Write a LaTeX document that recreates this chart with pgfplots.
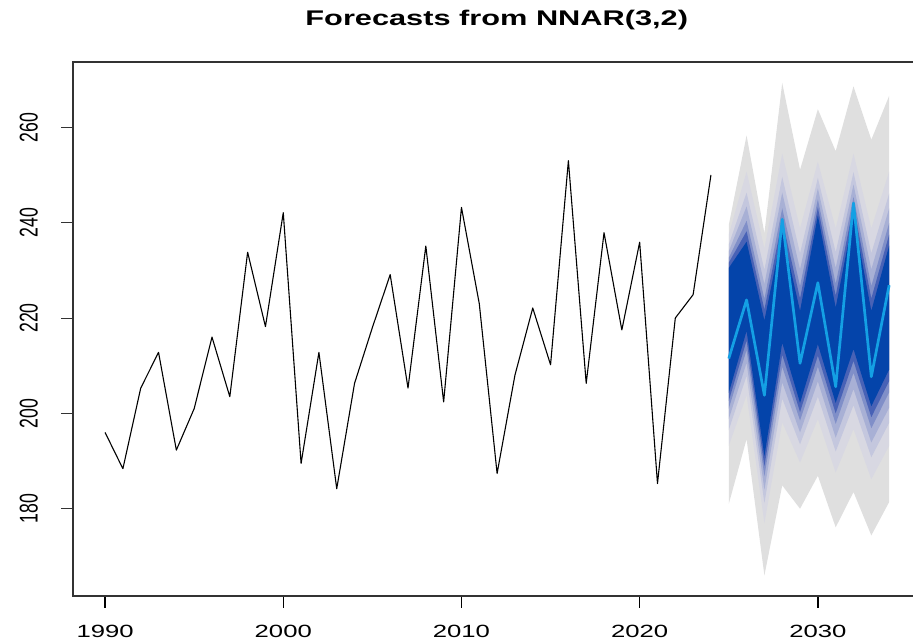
\documentclass[border=0pt]{standalone}
\usepackage{fontspec}
\setmainfont{Liberation Sans}[FakeStretch=1.45]
\newfontfamily\plainsans{Liberation Sans}
\usepackage{graphicx}
\usepackage{pgfplots}
\pgfplotsset{compat=1.18}
\usepgfplotslibrary{fillbetween}
\usepackage{pgfplotstable}
\definecolor{fanA}{RGB}{223,223,223}
\definecolor{fanT}{RGB}{216,216,226}
\definecolor{fanB}{RGB}{196,199,222}
\definecolor{fanC}{RGB}{168,176,213}
\definecolor{fanD}{RGB}{128,143,200}
\definecolor{fanE}{RGB}{72,98,182}
\definecolor{fanF}{RGB}{4,68,170}
\definecolor{lblue}{RGB}{20,160,228}

\pgfplotstableread{
year val
1990 196
1991 188.4
1992 205.3
1993 212.8
1994 192.3
1995 201
1996 216
1997 203.5
1998 233.8
1999 218.2
2000 242.1
2001 189.5
2002 212.8
2003 184.2
2004 206.3
2005 218
2006 229.1
2007 205.3
2008 235.1
2009 202.4
2010 243.2
2011 223
2012 187.4
2013 208
2014 222.1
2015 210.2
2016 253
2017 206.3
2018 237.9
2019 217.5
2020 235.9
2021 185.3
2022 220
2023 224.9
2024 250
}\hist

\pgfplotstableread{
year mean  u99   l99   ut    lt    ua    la    ub    lb    uc    lc    ue    le    ud    ld
2025 211.5 239.5 181.0 237.5 193.2 235.4 196.5 234.0 198.8 232.6 201.0 231.6 202.6 230.5 204.3
2026 223.8 258.3 194.6 250.7 203.8 246.3 207.9 243.4 210.6 240.4 213.3 238.2 215.3 236.0 217.3
2027 203.8 237.8 166.0 234.6 177.0 230.1 181.2 227.1 184.0 224.0 186.8 221.8 188.9 219.5 191.0
2028 240.7 269.3 184.9 254.5 198.1 249.6 203.1 246.3 206.5 243.0 209.8 240.5 212.3 238.0 214.8
2029 210.5 251.1 180.0 238.8 189.7 233.6 193.5 230.2 196.0 226.7 198.5 224.1 200.3 221.5 202.2
2030 227.4 263.8 186.9 252.8 198.8 249.4 203.5 247.2 206.7 244.9 209.8 243.2 212.1 241.5 214.5
2031 205.6 255.0 176.1 238.8 187.6 233.8 192.0 230.5 194.9 227.2 197.8 224.7 200.0 222.2 202.2
2032 244.1 268.6 183.5 254.5 196.7 250.6 201.7 248.0 205.1 245.4 208.5 243.5 211.0 241.5 213.5
2033 207.7 257.4 174.4 238.8 186.2 233.6 190.8 230.2 193.9 226.7 196.9 224.1 199.2 221.5 201.5
2034 226.9 266.6 181.4 250.7 193.2 246.1 198.0 243.0 201.2 239.9 204.4 237.5 206.8 235.2 209.2
}\fc

\begin{document}
\begin{tikzpicture}[x=1pt,y=1pt]
\begin{axis}[
  at={(0,0)}, anchor=south west,
  scale only axis, width=847.5pt, height=534pt,
  xmin=1988.2, xmax=2035.76, ymin=161.7, ymax=273.7,
  xtick={1990,2000,2010,2020,2030},
  ytick={180,200,220,240,260},
  minor tick num=0,
  tick align=outside, tick pos=left,
  major tick length=12pt,
  axis line style={draw=black!80, line width=1.1pt},
  xtick style={draw=black, line width=1.4pt},
  ytick style={draw=black!80, line width=1pt},
  /pgf/number format/assume math mode=true,
  /pgf/number format/1000 sep={},
  xticklabel shift=17pt,
  yticklabel shift=23pt,
  xticklabel style={font=\fontsize{17.7}{20}\selectfont, anchor=north, inner sep=0pt},
  yticklabel={\plainsans\fontsize{17.7}{20}\selectfont\scalebox{1}[1.45]{\pgfmathprintnumber{\tick}}},
  yticklabel style={rotate=90, anchor=south, inner sep=0pt},
  title={\bfseries\fontsize{21.2}{24}\selectfont Forecasts from NNAR(3,2)},
  title style={at={(0.5,1)}, anchor=base, inner sep=0pt, yshift=30pt},
  clip=true,
]
\addplot[draw=none, name path=u99] table[x=year,y=u99]{\fc};
\addplot[draw=none, name path=l99] table[x=year,y=l99]{\fc};
\addplot[draw=none, name path=ut] table[x=year,y=ut]{\fc};
\addplot[draw=none, name path=lt] table[x=year,y=lt]{\fc};
\addplot[draw=none, name path=ua] table[x=year,y=ua]{\fc};
\addplot[draw=none, name path=la] table[x=year,y=la]{\fc};
\addplot[draw=none, name path=ub] table[x=year,y=ub]{\fc};
\addplot[draw=none, name path=lb] table[x=year,y=lb]{\fc};
\addplot[draw=none, name path=uc] table[x=year,y=uc]{\fc};
\addplot[draw=none, name path=lc] table[x=year,y=lc]{\fc};
\addplot[draw=none, name path=ue] table[x=year,y=ue]{\fc};
\addplot[draw=none, name path=le] table[x=year,y=le]{\fc};
\addplot[draw=none, name path=ud] table[x=year,y=ud]{\fc};
\addplot[draw=none, name path=ld] table[x=year,y=ld]{\fc};
\addplot[fill=fanA] fill between[of=u99 and l99];
\addplot[fill=fanT] fill between[of=ut and lt];
\addplot[fill=fanB] fill between[of=ua and la];
\addplot[fill=fanC] fill between[of=ub and lb];
\addplot[fill=fanD] fill between[of=uc and lc];
\addplot[fill=fanE] fill between[of=ue and le];
\addplot[fill=fanF] fill between[of=ud and ld];
\addplot[black, line width=1.1pt, line join=round] table[x=year,y=val]{\hist};
\addplot[lblue, line width=2.7pt, line join=round] table[x=year,y=mean]{\fc};
\end{axis}
\pgfresetboundingbox
\path (-73,-46) rectangle (840,596);
\end{tikzpicture}
\end{document}
